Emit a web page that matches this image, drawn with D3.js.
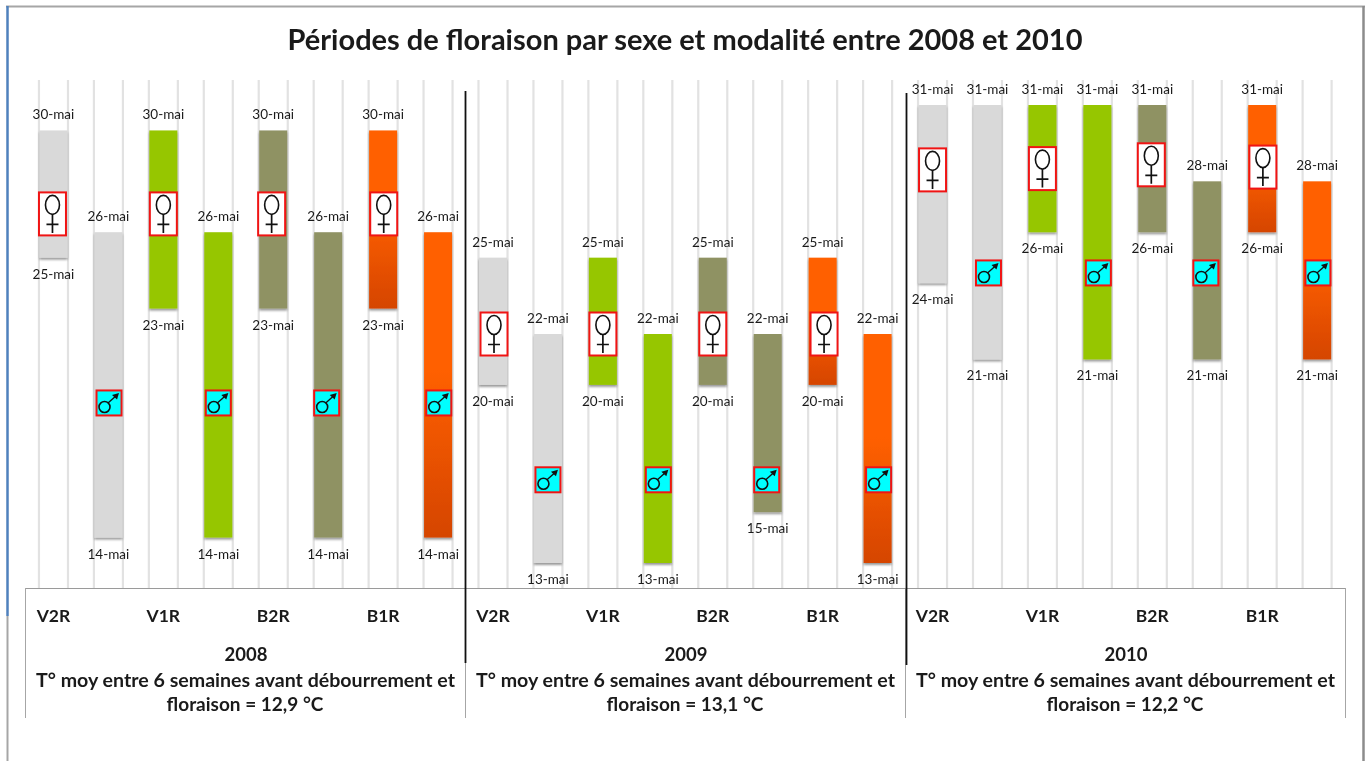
<!DOCTYPE html>
<html><head><meta charset="utf-8">
<script src="https://cdn.jsdelivr.net/npm/d3@7"></script>
<style>html,body{margin:0;padding:0;background:#fff}svg{display:block;filter:blur(0.45px)}text{font-family:Lato,"Open Sans",sans-serif;fill:#1a1a1a}</style>
</head><body><svg id="c" width="1369" height="761"></svg>
<script>
const chartTitle = "Périodes de floraison par sexe et modalité entre 2008 et 2010";
const years = [2008, 2009, 2010];
const temps = ["12,9", "13,1", "12,2"];
const modalites = ["V2R", "V1R", "B2R", "B1R"];
const colors = { V2R: "#d9d9d9", V1R: "#96c600", B2R: "#8f9263", B1R: "url(#orange)" };
// day of May, order V2R, V1R, B2R, B1R
const femaleEnd   = [[30,30,30,30],[25,25,25,25],[31,31,31,31]];
const femaleStart = [[25,23,23,23],[20,20,20,20],[24,26,26,26]];
const maleEnd     = [[26,26,26,26],[22,22,22,22],[31,31,28,28]];
const maleStart   = [[14,14,14,14],[13,13,15,13],[21,21,21,21]];
// date at which each sex symbol sits on the axis
const femaleMark  = [[26.72,26.72,26.72,26.72],[22,22,22,22],[28.45,28.5,28.65,28.56]];
const maleMark    = [[19.29,19.29,19.29,19.29],[16.27,16.27,16.27,16.27],[24.4,24.4,24.4,24.4]];

const svg = d3.select("#c");
const defs = svg.append("defs");
const g = defs.append("linearGradient").attr("id","orange").attr("x1",0).attr("x2",0).attr("y1",0).attr("y2",1);
g.append("stop").attr("offset","45%").attr("stop-color","#ff6000");
g.append("stop").attr("offset","100%").attr("stop-color","#d54500");
const f = defs.append("filter").attr("id","sh").attr("x","-20%").attr("y","-5%").attr("width","140%").attr("height","112%");
f.append("feDropShadow").attr("dx",0).attr("dy",2).attr("stdDeviation",1.2).attr("flood-color","#000").attr("flood-opacity",.4);

const columns = d3.range(24);
const x = d3.scaleBand().domain(columns).range([26, 1344.6]).paddingInner(0.472).paddingOuter(0.236);
const y = d3.scaleLinear().domain([31, 13]).range([105, 563]);
const yearScale = d3.scaleBand().domain(years).range([25.5, 1345.5]);

// page edges
svg.append("line").attr("x1",6).attr("x2",1365).attr("y1",6.5).attr("y2",6.5).attr("stroke","#a6a6a6").attr("stroke-width",2);
svg.append("line").attr("x1",7.5).attr("x2",7.5).attr("y1",616).attr("y2",761).attr("stroke","#a6a6a6").attr("stroke-width",2);
svg.append("line").attr("x1",7.5).attr("x2",7.5).attr("y1",6).attr("y2",616).attr("stroke","#4f81bd").attr("stroke-width",2.5);
svg.append("line").attr("x1",1363.5).attr("x2",1363.5).attr("y1",6).attr("y2",761).attr("stroke","#8c8c8c").attr("stroke-width",2.5);

svg.append("text").attr("x",685).attr("y",50).attr("text-anchor","middle").attr("font-size",29).attr("font-weight",700).text(chartTitle);

// column gutters
const gut = svg.append("g").attr("stroke","#e2e2e2").attr("stroke-width",2.2);
columns.forEach(c => {
  [x(c), x(c)+x.bandwidth()].forEach(px => gut.append("line").attr("x1",px).attr("x2",px).attr("y1",80).attr("y2",588));
});

// table below
const tb = svg.append("g");
tb.append("line").attr("x1",25.5).attr("x2",1345.5).attr("y1",588.5).attr("y2",588.5).attr("stroke","#9a9a9a");
d3.range(years.length+1).forEach(i => {
  const px = i<years.length ? yearScale(years[i]) : yearScale.range()[1];
  tb.append("line").attr("x1",px).attr("x2",px).attr("y1",588).attr("y2",718).attr("stroke","#a6a6a6");
});

// flowering bars and labels
const items = [];
years.forEach((yr,yi) => modalites.forEach((m,mi) => {
  items.push({col: yi*8+mi*2, yi, mi, m, hi: femaleEnd[yi][mi], lo: femaleStart[yi][mi], mark: femaleMark[yi][mi], sex:"F"});
  items.push({col: yi*8+mi*2+1, yi, mi, m, hi: maleEnd[yi][mi], lo: maleStart[yi][mi], mark: maleMark[yi][mi], sex:"M"});
}));
const bars = svg.append("g");
bars.selectAll("rect").data(items).join("rect")
  .attr("x",d=>x(d.col)+.5).attr("width",x.bandwidth()-1)
  .attr("y",d=>y(d.hi)).attr("height",d=>y(d.lo)-y(d.hi))
  .attr("fill",d=>colors[d.m]).attr("filter","url(#sh)");
const labels = svg.append("g").attr("font-size",13.5).attr("text-anchor","middle");
items.forEach(d=>{
  const cx = x(d.col)+x.bandwidth()/2;
  labels.append("text").attr("x",cx).attr("y",y(d.hi)-11).text(d.hi+"-mai");
  labels.append("text").attr("x",cx).attr("y",y(d.lo)+21).text(d.lo+"-mai");
});

// sex symbols (small hand placement offsets, in px)
const femaleShift = [[-1,0,-1.6,0.6],[1,0,0,1.4],[0,0,-1,0.7]];
const maleShift   = [[0.6,0,-1.5,0.7],[0,0.5,-1,1],[1,1,-1.4,0.8]];
const marks = svg.append("g");
items.forEach(d=>{
  const shift = (d.sex==="F"?femaleShift:maleShift)[d.yi][d.mi];
  const cx = x(d.col)+x.bandwidth()/2+shift, cy = y(d.mark);
  const s = marks.append("g").attr("transform",`translate(${cx},${cy})`);
  if (d.sex==="F") {
    s.append("rect").attr("x",-13.5).attr("y",-21.5).attr("width",27).attr("height",43).attr("fill","#fff").attr("stroke","#f01414").attr("stroke-width",2);
    s.append("ellipse").attr("cx",0).attr("cy",-9).attr("rx",7).attr("ry",9.5).attr("fill","none").attr("stroke","#111").attr("stroke-width",1.6);
    s.append("path").attr("d","M0,0.5V19M-6,10.5H6").attr("stroke","#111").attr("stroke-width",1.7).attr("fill","none");
  } else {
    s.append("rect").attr("x",-12.5).attr("y",-12.5).attr("width",25).attr("height",25).attr("fill","#00ffff").attr("stroke","#f01414").attr("stroke-width",2);
    s.append("circle").attr("cx",-4.5).attr("cy",4).attr("r",5.5).attr("fill","none").attr("stroke","#111").attr("stroke-width",1.6);
    s.append("path").attr("d","M-1,0L8,-8").attr("stroke","#111").attr("stroke-width",1.3);
    s.append("path").attr("d","M10,-10L3,-8L8,-3.5Z").attr("fill","#111");
  }
});

// separators
svg.append("line").attr("x1",465.5).attr("x2",465.5).attr("y1",91).attr("y2",663).attr("stroke","#111").attr("stroke-width",1.8);
svg.append("line").attr("x1",906.5).attr("x2",906.5).attr("y1",93).attr("y2",665).attr("stroke","#111").attr("stroke-width",1.8);

// table texts
years.forEach((yr,yi)=>{
  modalites.forEach((m,mi)=>{
    const col = yi*8+mi*2;
    svg.append("text").attr("x",x(col)+x.bandwidth()/2).attr("y",621.5).attr("text-anchor","middle").attr("font-size",17.5).attr("font-weight",700).text(m);
  });
  const cx = yearScale(yr)+yearScale.bandwidth()/2;
  const t = svg.append("g").attr("text-anchor","middle").attr("font-weight",700);
  t.append("text").attr("x",cx+.5).attr("y",660.5).attr("font-size",18.5).text(yr);
  t.append("text").attr("x",cx).attr("y",686.5).attr("font-size",19.6).text("T° moy entre 6 semaines avant débourrement et");
  t.append("text").attr("x",cx-.5).attr("y",711).attr("font-size",19).text(`floraison = ${temps[yi]} °C`);
});
</script></body></html>
